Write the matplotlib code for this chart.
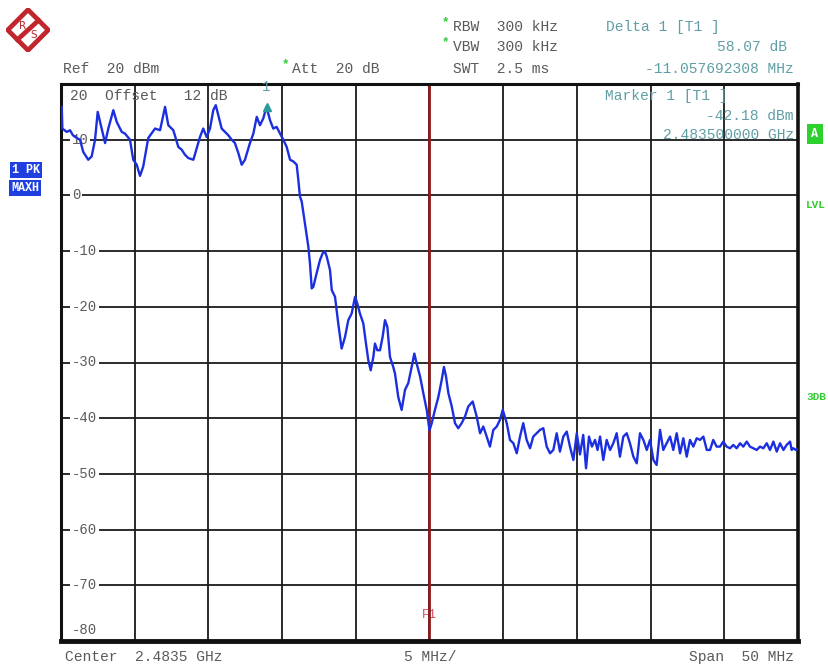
import numpy as np
import matplotlib.pyplot as plt
from matplotlib.patches import Polygon

# trace 1 (max hold), frequency offset from center in MHz and level in dBm
freq_mhz = [-24.95, -24.91, -24.61, -24.39, -24.19, -23.93, -23.71, -23.49, -23.15, -22.92,
            -22.69, -22.51, -22.35, -22.13, -22.01, -21.79, -21.45, -21.22, -20.88, -20.66,
            -20.32, -20.10, -19.86, -19.64, -19.42, -19.08, -18.62, -18.28, -17.94, -17.72,
            -17.38, -17.04, -16.81, -16.59, -16.36, -16.02, -15.79, -15.57, -15.35, -15.12,
            -14.89, -14.67, -14.50, -14.33, -14.10, -13.87, -13.65, -13.42, -13.20, -12.97,
            -12.74, -12.52, -12.18, -11.95, -11.72, -11.50, -11.28, -11.06, -10.82, -10.60,
            -10.37, -10.14, -9.92, -9.69, -9.46, -9.24, -9.01, -8.90, -8.79, -8.67,
            -8.45, -8.22, -8.11, -7.99, -7.88, -7.66, -7.43, -7.25, -7.09, -6.97,
            -6.75, -6.63, -6.41, -6.19, -5.96, -5.73, -5.51, -5.28, -5.05, -4.90,
            -4.72, -4.49, -4.31, -4.15, -3.99, -3.81, -3.70, -3.54, -3.36, -3.18,
            -3.02, -2.86, -2.68, -2.46, -2.34, -2.12, -1.89, -1.66, -1.44, -1.21,
            -1.03, -0.87, -0.64, -0.42, -0.19, 0.00, 0.15, 0.37, 0.60, 0.83,
            0.98, 1.12, 1.28, 1.51, 1.73, 1.95, 2.18, 2.41, 2.63, 2.93,
            3.20, 3.43, 3.65, 3.88, 4.10, 4.33, 4.56, 4.78, 4.97, 5.24,
            5.46, 5.69, 5.92, 6.14, 6.36, 6.59, 6.82, 7.04, 7.27, 7.50,
            7.72, 7.95, 8.18, 8.40, 8.63, 8.85, 9.08, 9.31, 9.53, 9.76,
            9.99, 10.21, 10.43, 10.62, 10.82, 11.02, 11.23, 11.40, 11.57, 11.79,
            12.02, 12.25, 12.47, 12.70, 12.92, 13.15, 13.38, 13.60, 13.83, 14.06,
            14.28, 14.51, 14.74, 14.96, 15.19, 15.41, 15.64, 15.86, 16.09, 16.32,
            16.54, 16.77, 17.00, 17.22, 17.45, 17.67, 17.90, 18.13, 18.35, 18.58,
            18.81, 19.03, 19.25, 19.48, 19.71, 19.93, 20.16, 20.39, 20.61, 20.84,
            21.07, 21.29, 21.52, 21.74, 21.97, 22.20, 22.42, 22.65, 22.88, 23.10,
            23.33, 23.56, 23.78, 24.01, 24.23, 24.46, 24.57, 24.68, 24.86, 25.00]
level_dbm = [15.9, 12.0, 11.4, 11.7, 10.8, 10.3, 10.0, 7.8, 6.4, 7.0,
             10.0, 15.0, 13.2, 10.8, 9.4, 12.0, 15.3, 13.2, 11.4, 11.1,
             10.0, 6.4, 5.5, 3.5, 5.2, 10.3, 12.0, 11.7, 15.9, 12.6,
             11.7, 8.7, 8.2, 7.3, 6.7, 6.4, 8.5, 10.5, 12.0, 10.5,
             12.0, 15.3, 16.2, 14.4, 12.0, 11.4, 10.8, 10.0, 9.4, 7.6,
             5.5, 6.4, 9.4, 11.1, 14.1, 12.6, 13.8, 15.89, 13.5, 12.0,
             12.3, 11.1, 10.0, 8.7, 6.4, 6.1, 5.5, 2.8, -0.2, -1.1,
             -5.0, -9.2, -12.2, -16.7, -16.4, -14.0, -11.6, -10.4, -10.1, -11.0,
             -13.4, -17.0, -18.2, -23.0, -27.5, -25.4, -22.4, -21.2, -18.2, -19.4,
             -21.2, -23.0, -26.6, -29.6, -31.4, -29.0, -26.6, -27.8, -27.8, -25.4,
             -22.4, -23.6, -29.0, -30.8, -32.0, -36.2, -38.5, -34.9, -33.7, -30.8,
             -28.4, -30.2, -32.5, -35.5, -38.5, -42.18, -40.9, -38.5, -36.2, -33.1,
             -30.8, -32.5, -35.5, -37.9, -40.9, -41.8, -40.9, -39.7, -37.9, -37.0,
             -39.7, -42.7, -41.5, -43.3, -45.1, -42.1, -41.5, -40.3, -38.5, -40.9,
             -43.9, -44.5, -46.3, -43.3, -40.9, -43.9, -45.4, -43.3, -42.7, -42.1,
             -41.8, -45.1, -46.3, -45.7, -42.7, -46.0, -43.3, -42.4, -45.1, -47.5,
             -42.7, -46.5, -43.0, -49.0, -43.3, -45.1, -43.9, -45.7, -43.3, -47.5,
             -43.9, -45.7, -44.5, -42.7, -46.9, -43.3, -42.7, -44.5, -46.9, -48.1,
             -42.7, -43.9, -45.7, -43.9, -47.5, -48.4, -42.1, -45.7, -44.5, -43.3,
             -45.7, -42.7, -46.3, -43.6, -46.9, -43.9, -45.1, -43.6, -43.9, -43.3,
             -45.7, -45.7, -43.9, -45.1, -45.1, -44.2, -45.1, -45.4, -44.8, -45.4,
             -44.5, -45.1, -44.2, -45.1, -45.4, -45.7, -45.1, -45.4, -44.5, -45.7,
             -44.2, -46.0, -44.5, -45.7, -44.8, -44.2, -45.7, -45.4, -45.7, -45.5]

ref_level = 20
offset_db = 12
center_ghz = 2.4835
span_mhz = 50
y_ticks = [20, 10, 0, -10, -20, -30, -40, -50, -60, -70, -80]

# marker 1 sits on the center frequency, delta 1 is relative to it
marker1_mhz = 0.0
marker1_dbm = -42.18
delta1_mhz = -11.057692308
delta1_db = 58.07

W, H = 829, 664
mono = 'Liberation Mono'
gray = '#5a5a5a'
teal = '#5f9ea6'
green = '#33cc33'
blue_trace = '#1b2fe0'


def px(x, y):
    return x / W, 1 - y / H


fig = plt.figure(figsize=(W / 100, H / 100), dpi=100)
ax = fig.add_axes([61 / W, 1 - 641 / H, 737 / W, 557 / H])
ax.set_xlim(-span_mhz / 2, span_mhz / 2)
ax.set_ylim(y_ticks[-1], y_ticks[0])
ax.set_xticks(np.linspace(-span_mhz / 2, span_mhz / 2, 11))
ax.set_yticks(y_ticks)
ax.tick_params(length=0, labelleft=False, labelbottom=False)
ax.grid(True, color='#1a1a1a', lw=1.3)
ax.set_axisbelow(True)
for side, lw in [('left', 2.2), ('top', 2.2), ('right', 2.6), ('bottom', 3.5)]:
    ax.spines[side].set_linewidth(lw)
    ax.spines[side].set_color('#111111')

# level labels on the grid lines
for v in y_ticks[1:-1]:
    ax.text(0.0149, v, '%d' % v, transform=ax.get_yaxis_transform(), ha='left', va='center',
            family=mono, fontsize=10, color=gray, zorder=2,
            bbox=dict(facecolor='white', edgecolor='none', pad=1.2))
ax.text(0.0149, y_ticks[-1] + 2, '%d' % y_ticks[-1], transform=ax.get_yaxis_transform(),
        ha='left', va='center', family=mono, fontsize=10, color=gray, zorder=2)
ax.text(0.0122, y_ticks[0] - 2.2, '%d  Offset   %d dB' % (y_ticks[0], offset_db),
        transform=ax.get_yaxis_transform(), ha='left', va='center', family=mono,
        fontsize=10.5, color=gray, zorder=2)

# frequency line F1 at center
ax.axvline(marker1_mhz, color='#8c1c1c', lw=2.0, zorder=2.5)
ax.text(marker1_mhz, -75.3, 'F1', ha='center', va='center', family=mono, fontsize=9,
        color='#d05060', zorder=2)

ax.plot(freq_mhz, level_dbm, color=blue_trace, lw=1.7, zorder=3)

# delta marker symbol
d_level = marker1_dbm + delta1_db
ax.plot(marker1_mhz + delta1_mhz, d_level, marker='^', ms=6, color='#2a9a9a', zorder=4)
ax.text(marker1_mhz + delta1_mhz, d_level + 3.5, '1', ha='center', va='center', family=mono,
        fontsize=10, color=teal, zorder=4)

# marker readout inside the grid
ax.text((605 - 61) / 737, 1 - (96 - 84) / 557, 'Marker 1 [T1 ]',
        transform=ax.transAxes, ha='left', va='center', family=mono, fontsize=10.5,
        color=teal, zorder=4)
ax.text((794 - 61) / 737, 1 - (116 - 84) / 557, '%.2f dBm' % marker1_dbm,
        transform=ax.transAxes, ha='right', va='center', family=mono, fontsize=10.5,
        color=teal, zorder=4)
ax.text((794 - 61) / 737, 1 - (135 - 84) / 557,
        '%.9f GHz' % (center_ghz + marker1_mhz / 1000), transform=ax.transAxes, ha='right',
        va='center', family=mono, fontsize=10.5, color=teal, zorder=4)

# header
txt = dict(family=mono, fontsize=10.5, va='center')
fig.text(*px(63, 69), 'Ref  %d dBm' % ref_level, color=gray, ha='left', **txt)
fig.text(*px(292, 69), 'Att  20 dB', color=gray, ha='left', **txt)
fig.text(*px(453, 27), 'RBW  300 kHz', color=gray, ha='left', **txt)
fig.text(*px(453, 47), 'VBW  300 kHz', color=gray, ha='left', **txt)
fig.text(*px(453, 69), 'SWT  2.5 ms', color=gray, ha='left', **txt)
for xx, yy in [(285, 64), (445, 22), (445, 42)]:
    fig.text(*px(xx, yy), '*', color=green, ha='center', fontsize=9, va='center',
             family=mono, weight='bold')
fig.text(*px(606, 27), 'Delta 1 [T1 ]', color=teal, ha='left', **txt)
fig.text(*px(787, 47), '%.2f dB' % delta1_db, color=teal, ha='right', **txt)
fig.text(*px(794, 69), '%.9f MHz' % delta1_mhz, color=teal, ha='right', **txt)

# footer
fig.text(*px(65, 657), 'Center  %.4f GHz' % center_ghz, color=gray, ha='left', **txt)
fig.text(*px(430, 657), '%d MHz/' % (span_mhz // 10), color=gray, ha='center', **txt)
fig.text(*px(794, 657), 'Span  %d MHz' % span_mhz, color=gray, ha='right', **txt)

# trace info boxes on the left
box_blue = dict(facecolor='#1f3fe0', edgecolor='none', pad=1.8)
fig.text(*px(12, 170), '1 PK', color='white', ha='left', va='center', family=mono,
         fontsize=8.5, weight='bold', bbox=box_blue)
fig.text(*px(11, 188), 'MAXH', color='white', ha='left', va='center', family=mono,
         fontsize=8.5, weight='bold', bbox=box_blue)

# status flags on the right
fig.text(*px(815, 134), 'A', color='white', ha='center', va='center', family=mono,
         fontsize=8.5, weight='bold',
         bbox=dict(facecolor='#2ed02e', edgecolor='none', pad=3.0))
fig.text(*px(816, 205), 'LVL', color=green, ha='center', va='center', family=mono,
         fontsize=8, weight='bold')
fig.text(*px(816, 397), '3DB', color=green, ha='center', va='center', family=mono,
         fontsize=8, weight='bold')

# R&S logo
lax = fig.add_axes([6 / W, 1 - 52 / H, 44 / W, 44 / H])
lax.set_xlim(-1, 1)
lax.set_ylim(-1, 1)
lax.axis('off')
red = '#c0262c'
lax.add_patch(Polygon([[0, 0.92], [0.92, 0], [0, -0.92], [-0.92, 0]], closed=True,
                      facecolor='white', edgecolor=red, lw=3.4))
lax.plot([-0.48, 0.48], [-0.44, 0.44], color=red, lw=3.4)
lax.text(-0.24, 0.2, 'R', color=red, ha='center', va='center', fontsize=7.5,
         family='DejaVu Sans')
lax.text(0.24, -0.22, 'S', color=red, ha='center', va='center', fontsize=7.5,
         family='DejaVu Sans')

fig.savefig('out.png', dpi=100)
